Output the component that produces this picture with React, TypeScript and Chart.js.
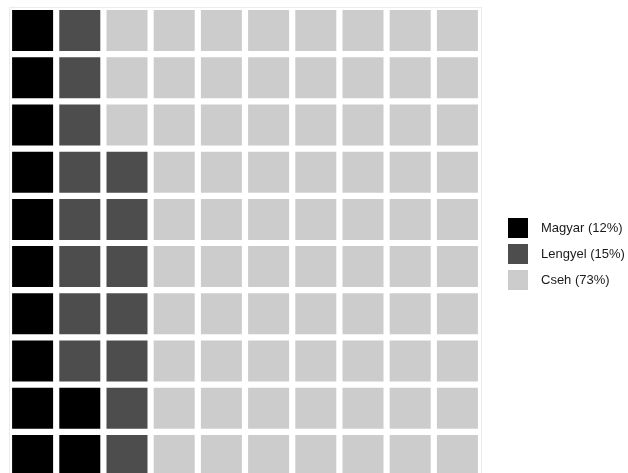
import React, { useEffect, useRef } from "react";
import { Chart, registerables } from "chart.js";

Chart.register(...registerables);

const CATEGORIES = ["Magyar", "Lengyel", "Cseh"];
const PERCENTS = [12, 15, 73];
const COLORS = ["#000000", "#4d4d4d", "#cccccc"];
const GRID_COLS = 10;
const GRID_ROWS = 10;

const W = 628;
const H = 501;

function buildCells() {
  const out = CATEGORIES.map(() => [] as { x: number; y: number }[]);
  let k = 0;
  PERCENTS.forEach((n, ci) => {
    for (let i = 0; i < n; i++, k++) {
      out[ci].push({ x: Math.floor(k / GRID_ROWS), y: k % GRID_ROWS });
    }
  });
  return out;
}

export default function App() {
  const ref = useRef<HTMLCanvasElement | null>(null);

  useEffect(() => {
    if (!ref.current) return;
    const cells = buildCells();
    const borderCol = "#ececec";
    const chart = new Chart(ref.current, {
      type: "scatter",
      data: {
        datasets: CATEGORIES.map((c, i) => ({
          label: `${c} (${PERCENTS[i]}%)`,
          data: cells[i],
          backgroundColor: COLORS[i],
          borderColor: COLORS[i],
          borderWidth: 0,
          pointStyle: "rect",
          pointRadius: 29,
          pointHoverRadius: 29,
          xAxisID: "x",
          yAxisID: "y",
        })),
      },
      options: {
        responsive: false,
        animation: false,
        events: [],
        layout: { autoPadding: false, padding: { left: 9, top: 7, right: 0, bottom: 0 } },
        scales: {
          x: {
            type: "linear",
            position: "top",
            min: -0.5,
            max: GRID_COLS - 0.5,
            ticks: { display: false },
            grid: { display: false, drawTicks: false },
            border: { display: true, color: borderCol, width: 1 },
            afterFit: (s: any) => {
              s.height = 0;
            },
          },
          xb: {
            type: "linear",
            position: "bottom",
            min: -0.5,
            max: GRID_COLS - 0.5,
            ticks: { display: false },
            grid: { display: false, drawTicks: false },
            border: { display: false },
            afterFit: (s: any) => {
              s.height = 22;
            },
          },
          y: {
            type: "linear",
            position: "right",
            min: -0.5,
            max: GRID_ROWS - 0.5,
            ticks: { display: false },
            grid: { display: false, drawTicks: false },
            border: { display: true, color: borderCol, width: 1 },
            afterFit: (s: any) => {
              s.width = 21;
            },
          },
          yl: {
            type: "linear",
            position: "left",
            min: -0.5,
            max: GRID_ROWS - 0.5,
            ticks: { display: false },
            grid: { display: false, drawTicks: false },
            border: { display: true, color: borderCol, width: 1 },
            afterFit: (s: any) => {
              s.width = 0;
            },
          },
        },
        plugins: {
          tooltip: { enabled: false },
          legend: {
            display: true,
            position: "right",
            maxWidth: 126,
            labels: {
              boxWidth: 20,
              boxHeight: 20,
              padding: 6,
              color: "#1a1a1a",
              font: { family: "'Liberation Sans', Arial, sans-serif", size: 13 },
              generateLabels: (ch: any) =>
                ch.data.datasets.map((ds: any, i: number) => ({
                  text: "\u2002" + ds.label,
                  fillStyle: ds.backgroundColor,
                  strokeStyle: ds.backgroundColor,
                  lineWidth: 0,
                  hidden: false,
                  datasetIndex: i,
                  fontColor: "#1a1a1a",
                })),
            },
          },
        },
      },
    } as any);
    return () => chart.destroy();
  }, []);

  return (
    <div
      style={{
        position: "fixed",
        left: 0,
        top: 0,
        width: W,
        height: H,
        background: "#ffffff",
      }}
    >
      <canvas ref={ref} width={W} height={H} style={{ display: "block" }} />
    </div>
  );
}
